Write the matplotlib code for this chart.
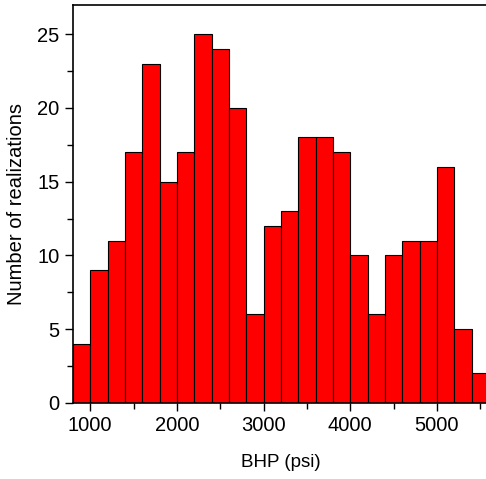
import matplotlib.pyplot as plt
import numpy as np
from matplotlib.ticker import MultipleLocator

plt.rcParams['font.family'] = ['Liberation Sans', 'DejaVu Sans']

# histogram bins (psi) and counts
bin_left = np.arange(800, 5600, 200)
counts = [4, 9, 11, 17, 23, 15, 17, 25, 24, 20, 6, 12,
          13, 18, 18, 17, 10, 6, 10, 11, 11, 16, 5, 2]

fig = plt.figure(figsize=(4.86, 4.79), dpi=100)
ax = fig.add_axes([0.150, 0.159, 0.856, 0.831])

ax.bar(bin_left, counts, width=200, align='edge',
       color='#ff0000', edgecolor='black', linewidth=0.8)

ax.set_xlim(800, 5600)
ax.set_ylim(0, 27)
ax.xaxis.set_major_locator(MultipleLocator(1000))
ax.xaxis.set_minor_locator(MultipleLocator(500))
ax.yaxis.set_major_locator(MultipleLocator(5))
ax.yaxis.set_minor_locator(MultipleLocator(2.5))
ax.tick_params(which='major', direction='out', length=6, width=1, labelsize=14.5)
ax.tick_params(which='minor', direction='out', length=4, width=1)
ax.tick_params(top=False, right=False)

for s in ax.spines.values():
    s.set_linewidth(1.2)

ax.set_xlabel('BHP (psi)', fontsize=13.5, labelpad=14)
ax.set_ylabel('Number of realizations', fontsize=14.5, labelpad=8)

fig.savefig('out.png', dpi=100)
